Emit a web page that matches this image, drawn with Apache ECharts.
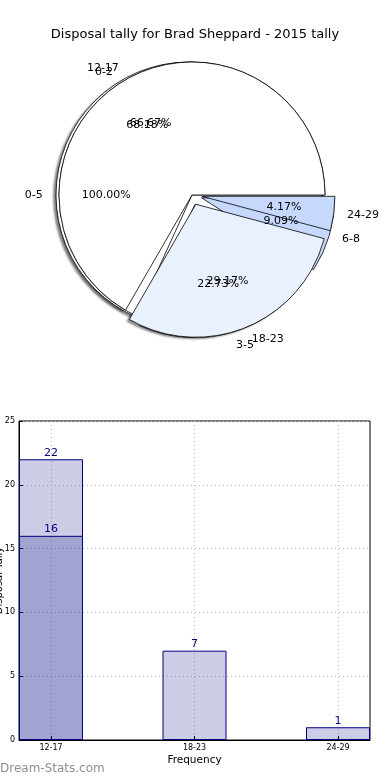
<!DOCTYPE html>
<html><head><meta charset="utf-8">
<script src="https://cdn.jsdelivr.net/npm/echarts@6/dist/echarts.min.js"></script>
<style>html,body{margin:0;padding:0;background:#fff}#c{width:390px;height:780px}</style>
</head><body><div id="c"></div>
<script>
// ---- data ----
const titleText = 'Disposal tally for Brad Sheppard - 2015 tally';
const pieNamesA = ['0-5'];
const pieValuesA = [22];
const pieNamesB = ['0-2', '3-5', '6-8'];
const pieValuesB = [15, 5, 2];
const pieNamesC = ['12-17', '18-23', '24-29'];
const pieValuesC = [16, 7, 1];
const barCategories = ['12-17', '18-23', '24-29'];
const barBackValues = [22];
const barFrontValues = [16, 7, 1];
const yTickMax = 25;
const yTickStep = 5;
const xAxisTitle = 'Frequency';
const yAxisTitle = 'Disposal Tally';
const watermarkText = 'Dream-Stats.com';

// ---- styling ----
const FONT = 'DejaVu Sans';
const CX = 192, CY = 195, R = 133;
const pieColors = ['#ffffff', '#eaf1fe', '#c6d9fd'];
const CLEAR = 'rgba(0,0,0,0)';

function pctFormatter(values) {
  const s = values.reduce((a, b) => a + b, 0);
  return p => (p.value / s * 100).toFixed(2) + '%';
}
function items(names, values, selFrom, color) {
  return names.map((n, i) => ({
    name: n, value: values[i], selected: i >= selFrom,
    itemStyle: { color: color || pieColors[i] }
  }));
}
const basePie = (offset) => ({
  type: 'pie', center: [CX, CY], radius: [0, R], startAngle: 0, clockwise: false,
  selectedMode: 'multiple', selectedOffset: offset, avoidLabelOverlap: false,
  labelLayout: { hideOverlap: false },
  silent: true, emphasis: { disabled: true }, animation: false
});
function mainPie(names, values, selFrom, offset) {
  return Object.assign(basePie(offset), {
    z: 2,
    itemStyle: { borderColor: '#000', borderWidth: 0.8 },
    select: { itemStyle: { borderColor: '#000', borderWidth: 0.8 } },
    label: { show: true, position: 'outside', formatter: '{b}', fontFamily: FONT, fontSize: 11, color: '#000', distanceToLabelLine: 0 },
    labelLine: { show: false, length: R * 0.1, length2: 0 },
    data: items(names, values, selFrom)
  });
}
function pctPie(names, values, selFrom, offset) {
  return Object.assign(basePie(offset), {
    z: 3, radius: [R * 0.2, R],
    itemStyle: { color: CLEAR, borderWidth: 0 },
    select: { itemStyle: { color: CLEAR, borderWidth: 0 } },
    label: { show: true, position: 'inside', formatter: pctFormatter(values), fontFamily: FONT, fontSize: 11, color: '#000' },
    labelLine: { show: false },
    data: items(names, values, selFrom, CLEAR)
  });
}
function shadowPie(names, values, selFrom, offset) {
  const sh = { color: '#fff', borderWidth: 0, shadowColor: 'rgba(0,0,0,0.45)', shadowBlur: 2, shadowOffsetX: -3, shadowOffsetY: 2 };
  return Object.assign(basePie(offset), {
    z: 1,
    itemStyle: sh, select: { itemStyle: sh },
    label: { show: false }, labelLine: { show: false },
    data: items(names, values, selFrom, '#fff')
  });
}
const barStyle = { color: 'rgba(0,0,128,0.2)', borderColor: '#000080', borderWidth: 1 };
const barLabel = { show: true, position: 'top', color: '#000080', fontFamily: FONT, fontSize: 11, distance: 1, formatter: p => p.value[1] };
const catIdx = barCategories.map((c, i) => i);
const gridLine = { show: true, lineStyle: { type: [1, 3], color: '#bcbcbc', width: 1 } };

const chart = echarts.init(document.getElementById('c'), null, { renderer: 'canvas' });
chart.setOption({
  animation: false,
  backgroundColor: '#fff',
  title: { text: titleText, left: 'center', top: 23, textStyle: { fontFamily: FONT, fontSize: 13, fontWeight: 'normal', color: '#000' } },
  graphic: [{ type: 'text', left: 0, top: 763, style: { text: watermarkText, fill: '#8f8f8f', font: '12px "DejaVu Sans"' } }],
  grid: { left: 19, right: 20, top: 421, bottom: 40, show: true, borderColor: '#000', borderWidth: 1, containLabel: false, outerBoundsMode: 'none' },
  xAxis: {
    type: 'value', min: -0.223, max: 2.223,
    axisLine: { show: true, onZero: false, lineStyle: { color: '#000', width: 1 } },
    axisTick: { show: true, inside: true, length: 4, customValues: catIdx, lineStyle: { color: '#000' } },
    axisLabel: { customValues: catIdx, formatter: v => barCategories[v], fontFamily: FONT, fontSize: 8, color: '#000', margin: 4 },
    splitLine: gridLine,
    name: xAxisTitle, nameLocation: 'middle', nameGap: 15, nameMoveOverlap: false, nameTextStyle: { fontFamily: FONT, fontSize: 10.5, color: '#000' }
  },
  yAxis: {
    type: 'value', min: 0, max: yTickMax, interval: yTickStep,
    axisLine: { show: true, onZero: false, lineStyle: { color: '#000', width: 1 } },
    axisTick: { show: true, inside: true, length: 4, lineStyle: { color: '#000' } },
    axisLabel: { fontFamily: FONT, fontSize: 8, color: '#000', margin: 4 },
    splitLine: gridLine,
    name: yAxisTitle, nameLocation: 'middle', nameGap: 15, nameRotate: 90, nameMoveOverlap: false, nameTextStyle: { fontFamily: FONT, fontSize: 10, color: '#000' }
  },
  series: [
    shadowPie(pieNamesA, pieValuesA, 0, 3),
    shadowPie(pieNamesC, pieValuesC, 1, 10),
    mainPie(pieNamesA, pieValuesA, 0, 3),
    mainPie(pieNamesB, pieValuesB, 1, 10),
    mainPie(pieNamesC, pieValuesC, 1, 10),
    pctPie(pieNamesA, pieValuesA, 0, 3),
    pctPie(pieNamesB, pieValuesB, 1, 10),
    pctPie(pieNamesC, pieValuesC, 1, 10),
    { type: 'bar', data: barBackValues.map((v, i) => [i, v]), barWidth: 64, barGap: '-100%', itemStyle: barStyle, label: barLabel, silent: true },
    { type: 'bar', data: barFrontValues.map((v, i) => [i, v]), barWidth: 64, barGap: '-100%', itemStyle: barStyle, label: barLabel, silent: true }
  ]
});
</script>
</body></html>
